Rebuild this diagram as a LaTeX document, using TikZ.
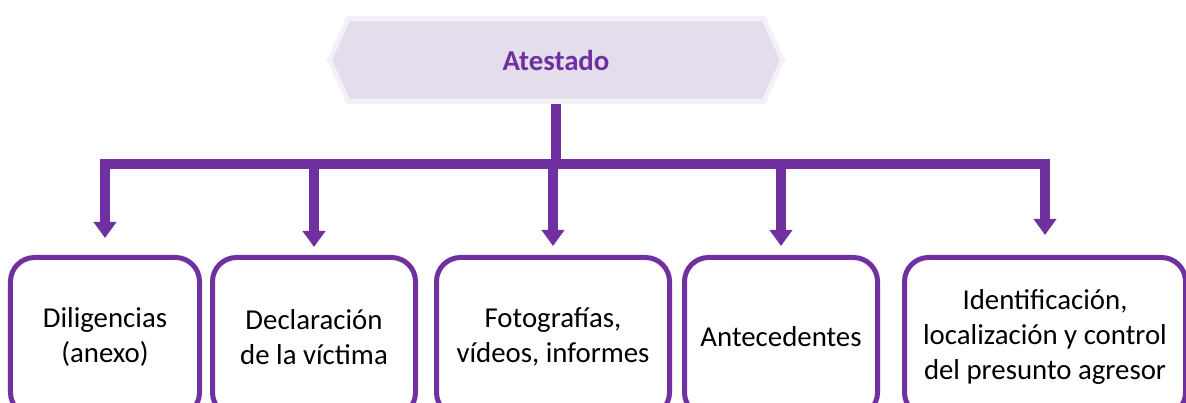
\documentclass[tikz,border=0pt]{standalone}
\usepackage{fontspec}
\setmainfont{Carlito}
\usetikzlibrary{
    positioning,      % colocacion relativa
    arrows.meta,      % puntas Triangle
    shapes.symbols    % forma signal (hexagono del titulo)
}
\definecolor{morado}{RGB}{112,48,160}
\definecolor{lila}{RGB}{228,222,236}
\definecolor{lilaclaro}{RGB}{243,240,248}

\begin{document}
\begin{tikzpicture}[
      x=0.25mm, y=-0.25mm,
      >={Triangle[length=4mm, width=5.5mm]},
      titulo/.style={signal, signal to=west and east, signal pointer angle=131,
                     fill=lila, draw=lilaclaro, line width=1.2mm,
                     minimum width=113.3mm, minimum height=20.8mm,
                     font=\fontsize{20.5}{24.8}\selectfont\bfseries, text=morado},
      caja/.style  ={draw=morado, line width=1.25mm, rounded corners=6mm,
                     minimum height=39.75mm, align=center,
                     font=\fontsize{20.5}{24.8}\selectfont},
      tronco/.style={draw=morado, line width=2.6mm},
      rama/.style  ={->, draw=morado, line width=2.6mm}
    ]
    \clip (0,0) rectangle (1186,403);

    % --- Titulo (hexagono superior) ---
    \node[titulo] (atestado) at (556,60) {Atestado};

    % --- Cajas de contenido (y=337) ---
    \node[caja, minimum width=47.25mm] (dil)  at (105,337)  {Diligencias\\(anexo)};
    \node[caja, minimum width=50.75mm] (decl) at (314,337)  {Declaración\\de la víctima};
    \node[caja, minimum width=58.25mm] (foto) at (553,337)  {Fotografías,\\vídeos, informes};
    \node[caja, minimum width=48.25mm] (ante) at (781,337)  {Antecedentes};
    \node[caja, minimum width=70.25mm] (iden) at (1045,337) {Identificación,\\localización y control\\del presunto agresor};

    % --- Reparto de flechas ---
    \coordinate (hub) at (556,164);
    \draw[tronco] (atestado.south) -- (hub);
    \draw[rama, shorten >=4.25mm] (hub) -| (dil.north);
    \draw[rama, shorten >=2mm]    (hub) -| (decl.north);
    \draw[rama, shorten >=2.25mm] (hub) -| (foto.north);
    \draw[rama, shorten >=2.25mm] (hub) -| (ante.north);
    \draw[rama, shorten >=5mm]    (hub) -| (iden.north);

  \end{tikzpicture}
\end{document}
